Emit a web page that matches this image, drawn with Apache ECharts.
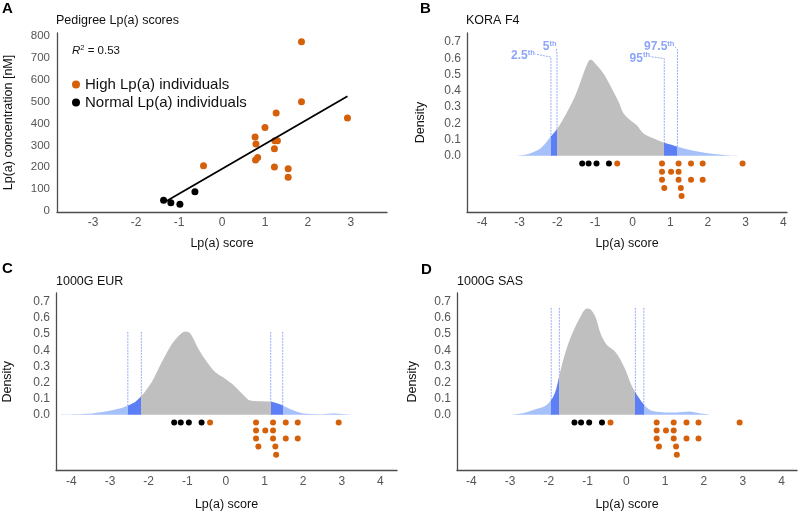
<!DOCTYPE html>
<html>
<head>
<meta charset="utf-8">
<script src="https://cdn.jsdelivr.net/npm/echarts@6/dist/echarts.min.js"></script>
<style>
  html, body { margin: 0; padding: 0; background: #fff; }
  #main { width: 800px; height: 512px; }
</style>
</head>
<body>
<div id="main"></div>
<script>
// panel A: pedigree scores vs measured Lp(a)
var highScore = [1.85, 1.85, 2.92, 1.26, 1.0, 0.77, 0.79, 1.23, 1.29, 1.22, 0.83, 0.78, 1.22, -0.43, 1.54, 1.54]
var highConc = [775, 500, 426, 449, 382, 339, 306, 321, 321, 285, 245, 233, 201, 207, 193, 154]
var normalScore = [-1.36, -1.19, -0.98, -0.63]
var normalConc = [49, 37, 31, 88]
var fitScore = [-1.31, 2.92]
var fitConc = [43, 525]

// dot plot under the densities (score, stack level)
var dotHighX = [-0.41, 0.78, 1.22, 1.55, 1.86, 2.92, 0.78, 1.02, 1.22, 0.78, 1.22, 1.55, 1.86, 0.84, 1.28, 1.30]
var dotHighLevel = [0, 0, 0, 0, 0, 0, 1, 1, 1, 2, 2, 2, 2, 3, 3, 4]
var dotNormalX = [-1.34, -1.17, -0.96, -0.63]
var dotNormalLevel = [0, 0, 0, 0]

// density curves
var koraX = [-3.16, -2.8, -2.45, -2.17, -2.0, -1.74, -1.52, -1.34, -1.17, -1.10, -0.99, -0.77, -0.55, -0.37, -0.24, -0.06, 0.11, 0.29, 0.56, 0.84, 1.22, 1.62, 2.06, 2.5, 3.21]
var koraY = [0, 0.01, 0.045, 0.12, 0.168, 0.27, 0.372, 0.485, 0.583, 0.59, 0.566, 0.505, 0.413, 0.331, 0.26, 0.219, 0.188, 0.137, 0.106, 0.08, 0.055, 0.031, 0.014, 0.004, 0]
var eurX = [-4.4, -3.56, -3.13, -2.78, -2.55, -2.35, -2.19, -1.92, -1.66, -1.40, -1.18, -1.04, -0.92, -0.71, -0.49, -0.28, -0.02, 0.2, 0.41, 0.59, 0.76, 1.15, 1.32, 1.48, 1.71, 1.97, 2.49, 2.83, 3.18, 3.65]
var eurY = [0, 0.006, 0.02, 0.037, 0.057, 0.08, 0.116, 0.204, 0.327, 0.439, 0.5, 0.516, 0.504, 0.408, 0.327, 0.265, 0.224, 0.184, 0.133, 0.092, 0.086, 0.082, 0.071, 0.057, 0.031, 0.01, 0.004, 0.008, 0.002, 0]
var sasX = [-2.98, -2.68, -2.34, -2.12, -1.94, -1.82, -1.72, -1.61, -1.44, -1.22, -1.02, -0.92, -0.79, -0.66, -0.49, -0.32, -0.19, -0.02, 0.11, 0.22, 0.33, 0.46, 0.63, 0.93, 1.27, 1.62, 1.88, 2.22]
var sasY = [0, 0.01, 0.035, 0.051, 0.092, 0.153, 0.255, 0.357, 0.48, 0.592, 0.659, 0.653, 0.602, 0.5, 0.429, 0.398, 0.357, 0.276, 0.194, 0.143, 0.102, 0.061, 0.027, 0.016, 0.014, 0.02, 0.01, 0]

// 2.5th, 5th, 95th, 97.5th percentiles
var pctNames = ['2.5', '5', '95', '97.5']
var koraPct = [-2.17, -2.01, 0.84, 1.19]
var eurPct = [-2.54, -2.19, 1.16, 1.47]
var sasPct = [-1.94, -1.73, 0.23, 0.45]

var ORANGE = '#d5600a'
var LIGHT = '#a6c0f9'
var DARK = '#5c7ff6'
var GREY = '#bfbfbf'
var PCTLINE = '#98adf6'
var AXIS = '#4d4d4d'
var FONT = 'Liberation Sans, Arial, sans-serif'

function zip(a, b) { return a.map((v, i) => [v, b[i]]) }

var chart = echarts.init(document.getElementById('main'), null, { renderer: 'canvas' })

var grids = [
  { left: 57, top: 33, width: 330, height: 179 },
  { left: 467, top: 33, width: 320, height: 179 },
  { left: 56, top: 293, width: 341, height: 178 },
  { left: 457, top: 293, width: 341, height: 178 }
]
var xRanges = [[-3.84, 3.84], [-4.4, 4.1], [-4.4, 4.43], [-4.37, 4.4]]

function intLabel(v) {
  return Math.abs(v - Math.round(v)) < 1e-6 ? String(Math.round(v)) : ''
}
function densLabel(v) {
  return (v > -1e-6 && v < 0.7001) ? Math.abs(v).toFixed(1) : ''
}

var xAxes = grids.map((g, i) => ({
  gridIndex: i, type: 'value', min: xRanges[i][0], max: xRanges[i][1], splitNumber: 8,
  name: 'Lp(a) score', nameLocation: 'middle', nameGap: i < 2 ? 32 : 34, nameMoveOverlap: false,
  nameTextStyle: { color: '#111', fontSize: 12.5, fontFamily: FONT, verticalAlign: 'middle' },
  axisLine: { onZero: false, lineStyle: { color: AXIS, width: 1.3 } },
  axisTick: { show: false }, splitLine: { show: false },
  axisLabel: { formatter: intLabel, color: '#555', fontSize: 12, margin: 5, fontFamily: FONT }
}))

var yNameGap = [48, 46, 48, 44]
var yAxes = grids.map((g, i) => i === 0 ? {
  gridIndex: 0, type: 'value', min: -5, max: 815, splitNumber: 8,
  name: 'Lp(a) concentration [nM]', nameLocation: 'middle', nameGap: yNameGap[0], nameRotate: 90, nameMoveOverlap: false,
  nameTextStyle: { color: '#111', fontSize: 12.5, fontFamily: FONT, verticalAlign: 'middle' },
  axisLine: { show: true, onZero: false, lineStyle: { color: AXIS, width: 1.3 } },
  axisTick: { show: false }, splitLine: { show: false },
  axisLabel: { formatter: v => (v >= 0 && v <= 800 && v % 100 === 0) ? String(v) : '', color: '#555', fontSize: 11.5, margin: 7, fontFamily: FONT }
} : {
  gridIndex: i, type: 'value', min: -0.345, max: 0.755, splitNumber: 11,
  name: 'Density', nameLocation: 'middle', nameGap: yNameGap[i], nameRotate: 90, nameMoveOverlap: false,
  nameTextStyle: { color: '#111', fontSize: 12.5, fontFamily: FONT, verticalAlign: 'middle' },
  axisLine: { show: true, onZero: false, lineStyle: { color: AXIS, width: 1.3 } },
  axisTick: { show: false }, splitLine: { show: false },
  axisLabel: { formatter: densLabel, color: '#555', fontSize: 12, margin: 6, fontFamily: FONT }
})

var series = []

// panel A
series.push({
  name: 'High Lp(a) individuals', type: 'scatter', xAxisIndex: 0, yAxisIndex: 0,
  data: zip(highScore, highConc), symbolSize: 7, itemStyle: { color: ORANGE, opacity: 1 }, z: 3
})
series.push({
  name: 'Normal Lp(a) individuals', type: 'scatter', xAxisIndex: 0, yAxisIndex: 0,
  data: zip(normalScore, normalConc), symbolSize: 7, itemStyle: { color: '#000', opacity: 1 }, z: 3
})
series.push({
  type: 'line', xAxisIndex: 0, yAxisIndex: 0, data: zip(fitScore, fitConc),
  symbol: 'none', lineStyle: { color: '#000', width: 1.8 }, z: 4, silent: true
})

// density panels
var dens = [
  { x: koraX, y: koraY, pct: koraPct },
  { x: eurX, y: eurY, pct: eurPct },
  { x: sasX, y: sasY, pct: sasPct }
]
var visualMaps = []

// percentile label anchors for KORA (line top, leader end, text anchor)
var koraTops = [0.607, 0.624, 0.598, 0.653]
var koraLabelAt = [[-2.58, 0.625], [-2.03, 0.66], [0.47, 0.61], [1.13, 0.67]]
var koraTextAt = [[-2.6, 0.617], [-2.02, 0.668], [0.46, 0.6], [1.11, 0.672]]

dens.forEach((d, k) => {
  var gi = k + 1
  // percentile lines
  d.pct.forEach((p, j) => {
    var pts = k === 0 ? [[p, 0], [p, koraTops[j]], koraLabelAt[j]] : [[p, 0], [p, k === 1 ? 0.52 : 0.67]]
    series.push({
      type: 'line', xAxisIndex: gi, yAxisIndex: gi, data: pts, symbol: 'none', silent: true,
      lineStyle: { color: PCTLINE, width: 1, type: [2, 1] }, z: 1
    })
  })
  var idx = series.length
  series.push({
    type: 'line', xAxisIndex: gi, yAxisIndex: gi, data: zip(d.x, d.y),
    smooth: 0.3, symbol: 'none', silent: true,
    lineStyle: { width: 0 }, areaStyle: { opacity: 1 }, z: 2
  })
  visualMaps.push({
    show: false, type: 'piecewise', seriesIndex: idx, dimension: 0,
    pieces: [
      { lt: d.pct[0], color: LIGHT },
      { gte: d.pct[0], lt: d.pct[1], color: DARK },
      { gte: d.pct[1], lt: d.pct[2], color: GREY },
      { gte: d.pct[2], lt: d.pct[3], color: DARK },
      { gte: d.pct[3], color: LIGHT }
    ]
  })
  // dot plots
  series.push({
    type: 'scatter', xAxisIndex: gi, yAxisIndex: gi, symbolSize: 6, silent: true,
    data: dotNormalX.map((v, i) => [v, -0.047 - 0.05 * dotNormalLevel[i]]),
    itemStyle: { color: '#000', opacity: 1 }, z: 3
  })
  series.push({
    type: 'scatter', xAxisIndex: gi, yAxisIndex: gi, symbolSize: 6, silent: true,
    data: dotHighX.map((v, i) => [v, -0.047 - 0.05 * dotHighLevel[i]]),
    itemStyle: { color: ORANGE, opacity: 1 }, z: 3
  })
})

// percentile labels in KORA panel
series.push({
  type: 'scatter', xAxisIndex: 1, yAxisIndex: 1, symbolSize: 0, silent: true, z: 5,
  data: koraTextAt.map((p, j) => ({
    value: p,
    label: {
      show: true, position: 'left', distance: 0,
      formatter: '{a|' + pctNames[j] + '}{b|th}',
      rich: {
        a: { color: '#6f8ff7', fontSize: 12, fontWeight: 'bold', fontFamily: FONT },
        b: { color: '#6f8ff7', fontSize: 7.5, fontWeight: 'bold', fontFamily: FONT, verticalAlign: 'bottom', padding: [0, 0, 6, 0] }
      }
    }
  }))
})

var titleStyle = { color: '#111', fontSize: 12.5, fontWeight: 'normal', fontFamily: FONT }
var tagStyle = { color: '#000', fontSize: 15, fontWeight: 'bold', fontFamily: FONT }

var option = {
  animation: false,
  backgroundColor: '#fff',
  title: [
    { text: 'A', left: 2, top: 1, padding: 0, textStyle: tagStyle },
    { text: 'B', left: 420, top: 1, padding: 0, textStyle: tagStyle },
    { text: 'C', left: 2, top: 261, padding: 0, textStyle: tagStyle },
    { text: 'D', left: 421, top: 262, padding: 0, textStyle: tagStyle },
    { text: 'Pedigree Lp(a) scores', left: 56, top: 14, padding: 0, textStyle: titleStyle },
    { text: 'KORA F4', left: 466, top: 14, padding: 0, textStyle: titleStyle },
    { text: '1000G EUR', left: 56, top: 275, padding: 0, textStyle: titleStyle },
    { text: '1000G SAS', left: 457, top: 275, padding: 0, textStyle: titleStyle },
    {
      text: '{i|R}{s|2}{n| = 0.53}', left: 72, top: 44, padding: 0,
      textStyle: {
        rich: {
          i: { fontSize: 11.5, fontStyle: 'italic', fontWeight: 'normal', color: '#111', fontFamily: FONT },
          s: { fontSize: 7.5, fontWeight: 'normal', color: '#111', fontFamily: FONT, verticalAlign: 'bottom', padding: [0, 0, 6, 0] },
          n: { fontSize: 11.5, fontWeight: 'normal', color: '#111', fontFamily: FONT }
        }
      }
    }
  ],
  legend: {
    data: ['High Lp(a) individuals', 'Normal Lp(a) individuals'],
    orient: 'vertical', left: 72, top: 77, padding: 0, itemGap: 3, itemWidth: 8, itemHeight: 8,
    icon: 'circle', textStyle: { fontSize: 15, color: '#111', fontFamily: FONT }
  },
  grid: grids,
  xAxis: xAxes,
  yAxis: yAxes,
  visualMap: visualMaps,
  series: series
}

chart.setOption(option)
</script>
</body>
</html>
